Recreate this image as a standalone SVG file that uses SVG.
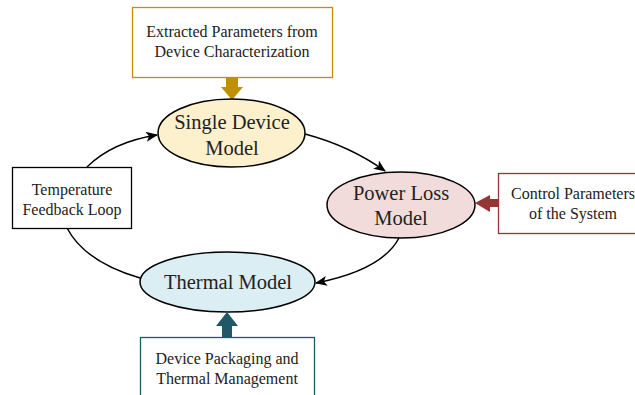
<svg xmlns="http://www.w3.org/2000/svg" width="635" height="395" viewBox="0 0 635 395">
<style>
text{font-family:"Liberation Serif","Times New Roman",serif;fill:#222;text-anchor:middle}
.box{font-size:16px}
.ell{font-size:20.5px}
.conn{fill:none;stroke:#000;stroke-width:1.5}
</style>
<defs>
<marker id="ah" viewBox="0 0 12 10" refX="11" refY="5" markerWidth="12" markerHeight="10" markerUnits="userSpaceOnUse" orient="auto">
<path d="M0,0 L12,5 L0,10 L3,5 z" fill="#000"/>
</marker>
</defs>
<rect width="635" height="395" fill="#fff"/>
<g id="connectors">
<path class="conn" d="M87,167 Q112,142 157,135" marker-end="url(#ah)"/>
<path class="conn" d="M305,134 Q350,146 385,171" marker-end="url(#ah)"/>
<path class="conn" d="M399,238 Q382,270 316,283" marker-end="url(#ah)"/>
<path class="conn" d="M140,278 Q85,262 67,228"/>
</g>
<g id="extracted">
<rect x="132.5" y="7.5" width="200" height="70" fill="#fff" stroke="#c09000" stroke-width="1.3"/>
<text class="box" x="232" y="37">Extracted Parameters from</text>
<text class="box" x="232" y="57">Device Characterization</text>
<path d="M226,77 L238,77 L238,87 L243,87 L232,100 L221,87 L226,87 z" fill="#c09000"/>
</g>
<g id="single">
<ellipse cx="231.5" cy="133" rx="73.5" ry="34" fill="#fdf0cc" stroke="#000" stroke-width="1.5"/>
<text class="ell" x="232" y="129">Single Device</text>
<text class="ell" x="232" y="155">Model</text>
</g>
<g id="powerloss">
<ellipse cx="401" cy="205" rx="74" ry="33" fill="#f2dcdb" stroke="#000" stroke-width="1.5"/>
<text class="ell" x="401" y="200">Power Loss</text>
<text class="ell" x="401" y="225">Model</text>
</g>
<g id="control">
<rect x="498.5" y="173.5" width="150" height="60" fill="#fff" stroke="#943634" stroke-width="1.3"/>
<text class="box" x="573" y="199">Control Parameters</text>
<text class="box" x="573" y="219">of the System</text>
<path d="M498,199 L490,199 L490,195 L475,203 L490,212 L490,207 L498,207 z" fill="#943634"/>
</g>
<g id="thermal">
<ellipse cx="227.5" cy="282" rx="87.5" ry="30" fill="#daeef3" stroke="#000" stroke-width="1.5"/>
<text class="ell" x="228" y="289">Thermal Model</text>
</g>
<g id="packaging">
<rect x="140.5" y="337.5" width="174" height="70" fill="#fff" stroke="#215868" stroke-width="1.3"/>
<text class="box" x="227" y="364">Device Packaging and</text>
<text class="box" x="227" y="384">Thermal Management</text>
<path d="M222,338 L232,338 L232,326 L238,326 L227,312 L216,326 L222,326 z" fill="#215868"/>
</g>
<g id="temperature">
<rect x="12.5" y="167.5" width="119" height="61" fill="#fff" stroke="#000" stroke-width="1.3"/>
<text class="box" x="72" y="195">Temperature</text>
<text class="box" x="72" y="215">Feedback Loop</text>
</g>
</svg>
